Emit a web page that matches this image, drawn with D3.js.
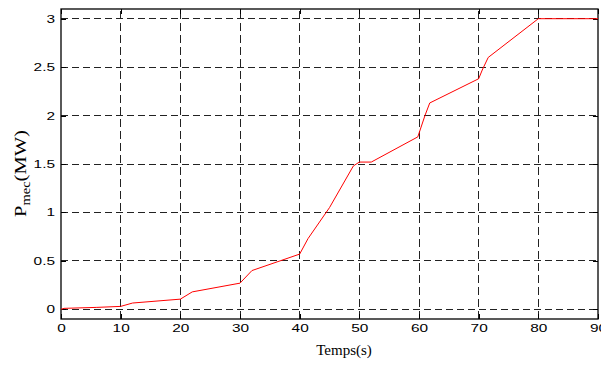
<!DOCTYPE html>
<html><head><meta charset="utf-8">
<script src="https://cdn.jsdelivr.net/npm/d3@7"></script>
<style>
html,body{margin:0;padding:0;background:#fff;}
svg{display:block;}
</style></head>
<body>
<script>
const time  = [0, 0.5, 6, 10, 12, 20, 22, 30, 32, 40, 41.4, 45, 49, 50, 52, 59.8, 61, 61.8, 70, 70.6, 71.6, 80, 90];
const power = [0, 0.01, 0.02, 0.03, 0.065, 0.105, 0.18, 0.27, 0.4, 0.57, 0.73, 1.05, 1.48, 1.52, 1.52, 1.78, 2.0, 2.13, 2.38, 2.47, 2.6, 3.0, 3.0];
const xTicks = [0, 10, 20, 30, 40, 50, 60, 70, 80, 90];
const yTicks = [0, 0.5, 1, 1.5, 2, 2.5, 3];
const yTickLabels = ["0", "0.5", "1", "1.5", "2", "2.5", "3"];
const xTitle = "Temps(s)";

const W = 601, H = 369;
const L = 61, R = 598, T = 9, B = 319;
const svg = d3.select("body").append("svg").attr("width", W).attr("height", H);

const x = d3.scaleLinear().domain([0, 90]).range([L, R]);
const y = d3.scaleLinear().domain([-0.1, 3.1]).range([B, T]);

// grid
const grid = svg.append("g");
grid.selectAll("line.h").data(yTicks).join("line")
  .attr("x1", L).attr("x2", R).attr("y1", d => y(d)).attr("y2", d => y(d))
  .attr("stroke", "#222").attr("stroke-width", 1).attr("stroke-dasharray", "7,4")
  .attr("shape-rendering", "crispEdges");
grid.selectAll("line.v").data(xTicks.slice(1, -1)).join("line")
  .attr("x1", d => x(d)).attr("x2", d => x(d)).attr("y1", B).attr("y2", T)
  .attr("stroke", "#222").attr("stroke-width", 1).attr("stroke-dasharray", "8,4")
  .attr("shape-rendering", "crispEdges");

// axes
const sx = 1.4;
const xAxis = svg.append("g").attr("transform", `translate(0,${B})`)
  .call(d3.axisBottom(x).tickValues(xTicks).tickFormat(d3.format("d")).tickSizeInner(-5).tickSizeOuter(0));
const yAxis = svg.append("g").attr("transform", `translate(${L},0)`)
  .call(d3.axisLeft(y).tickValues(yTicks).tickFormat((d, i) => yTickLabels[i]).tickSizeInner(-5).tickSizeOuter(0));
svg.append("g").attr("transform", `translate(0,${T})`)
  .call(d3.axisTop(x).tickValues(xTicks).tickFormat("").tickSizeInner(-5).tickSizeOuter(0));
svg.append("g").attr("transform", `translate(${R},0)`)
  .call(d3.axisRight(y).tickValues(yTicks).tickFormat("").tickSizeInner(-5).tickSizeOuter(0));

svg.selectAll(".domain").remove();
svg.selectAll(".tick line").attr("stroke", "#000").attr("shape-rendering", "crispEdges");
xAxis.selectAll("text").attr("font-family", "'Liberation Sans', Arial, sans-serif").attr("font-size", 11)
  .attr("fill", "#000").attr("y", 5).attr("transform", `scale(${sx},1)`);
yAxis.selectAll("text").attr("font-family", "'Liberation Sans', Arial, sans-serif").attr("font-size", 11)
  .attr("fill", "#000").attr("x", -6 / sx).attr("transform", `scale(${sx},1)`);

// box
svg.append("rect").attr("x", L).attr("y", T).attr("width", R - L).attr("height", B - T)
  .attr("fill", "none").attr("stroke", "#000").attr("stroke-width", 1.3);

// line
const line = d3.line().x((d, i) => x(time[i])).y(d => y(d));
svg.append("path").datum(power).attr("d", line)
  .attr("fill", "none").attr("stroke", "#ff0000").attr("stroke-width", 1);

// x title
svg.append("text").attr("x", 344).attr("y", 355).attr("text-anchor", "middle")
  .attr("font-family", "'Liberation Serif', 'Times New Roman', serif").attr("font-size", 15)
  .attr("fill", "#000").text(xTitle);

// y title
const yt = svg.append("text")
  .attr("font-family", "'Liberation Serif', 'Times New Roman', serif").attr("font-size", 17)
  .attr("fill", "#000").attr("text-anchor", "start");
yt.append("tspan").text("P");
yt.append("tspan").attr("font-size", 12).attr("dy", 4).text("mec");
yt.append("tspan").attr("dy", -4).text("(MW)");
const len = yt.node().getComputedTextLength();
const stretch = 87 / len;
yt.attr("transform", `translate(26,217) rotate(-90) scale(${stretch},1)`);
</script>
</body></html>
